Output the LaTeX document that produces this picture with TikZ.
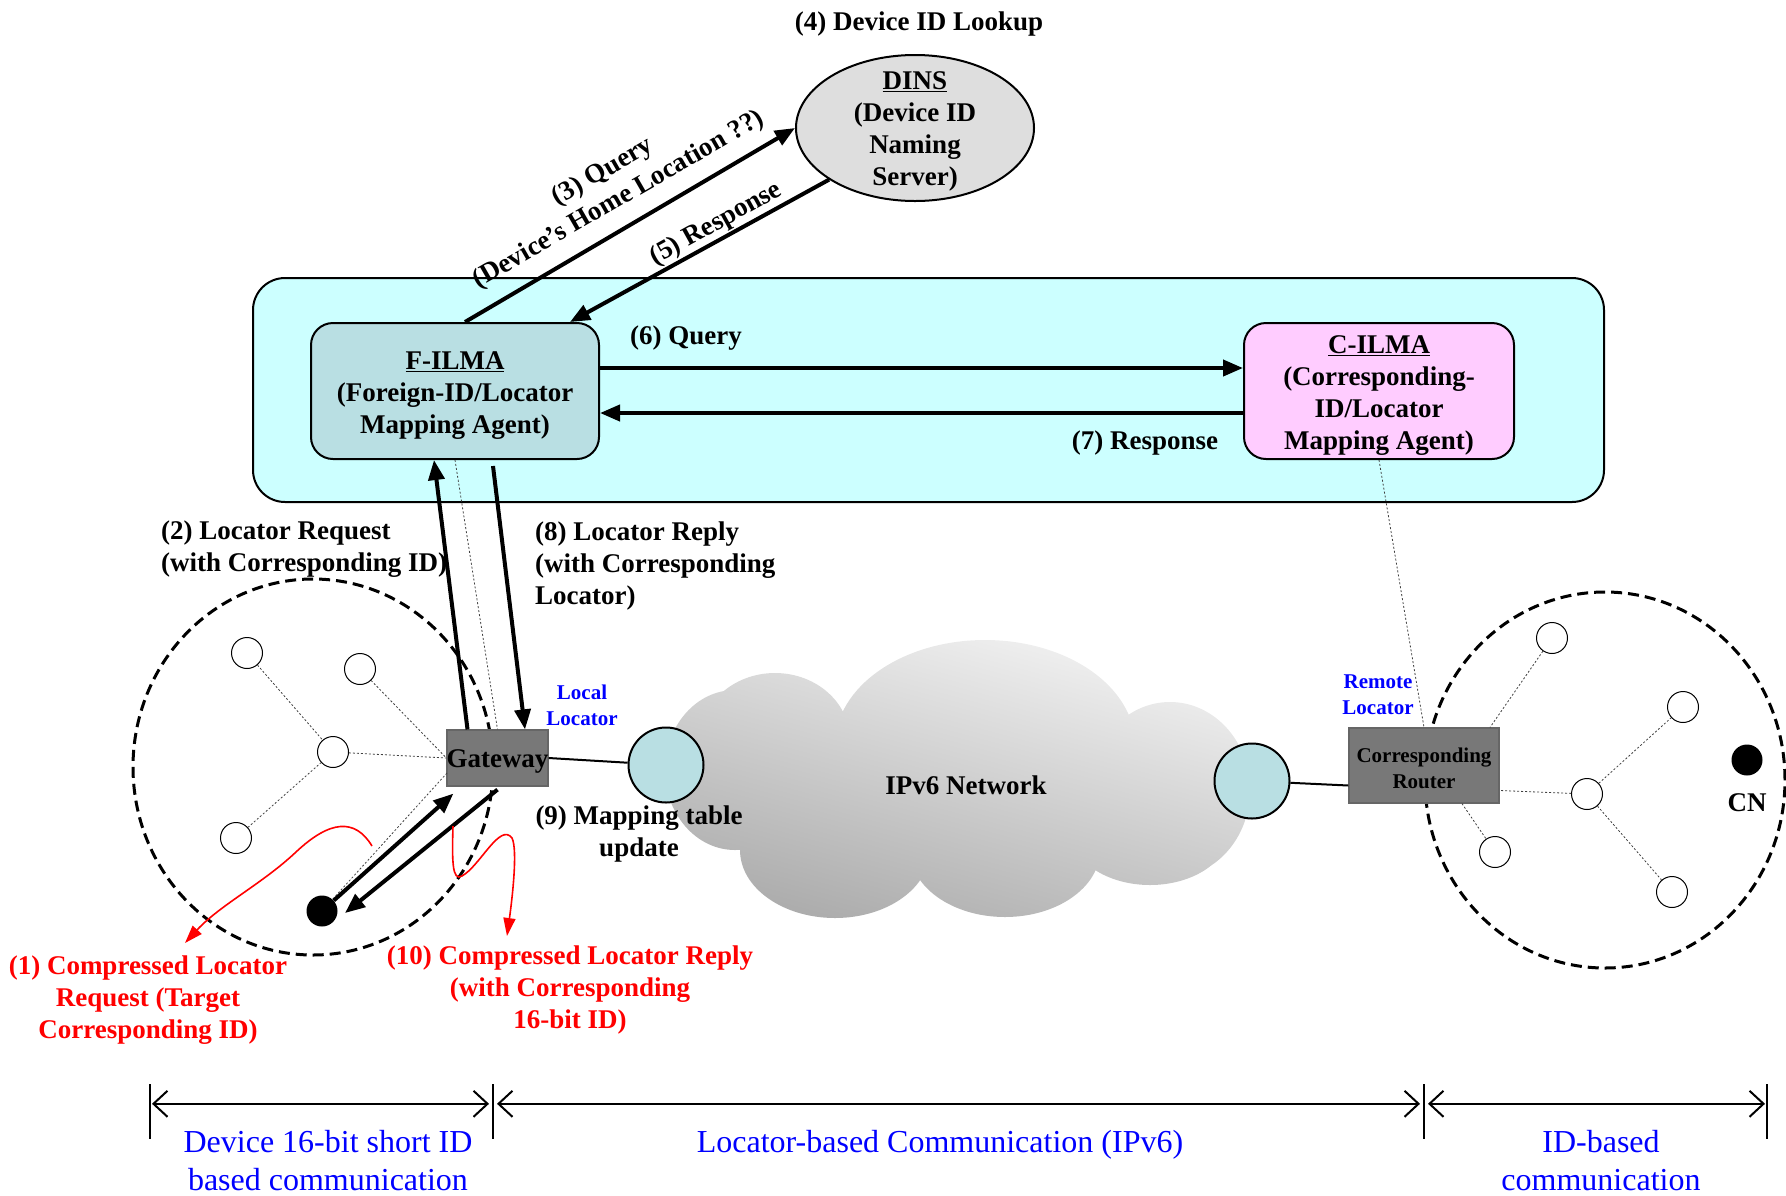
\documentclass[tikz,border=0pt]{standalone}
\usepackage{fontspec}
\setmainfont{Liberation Serif}
\usetikzlibrary{arrows.meta,shapes.geometric,calc}

\definecolor{aqua}{HTML}{CCFFFF}
\definecolor{tealbox}{HTML}{B9DFE3}
\definecolor{pinkbox}{HTML}{FFCCFF}
\definecolor{dinsgray}{HTML}{DEDEDE}
\definecolor{boxgray}{HTML}{787878}
\definecolor{lblue}{HTML}{0000FF}
\definecolor{lred}{HTML}{FF0000}

\newcommand\bigbf{\fontsize{27}{32}\selectfont\bfseries}
\newcommand\smallbf{\fontsize{21}{26}\selectfont\bfseries}
\newcommand\spanfont{\fontsize{32}{38}\selectfont}

\begin{document}
\begin{tikzpicture}[x=1pt,y=-1pt,
  lbl/.style={font=\bigbf, align=center, inner sep=0pt, yshift=-3pt},
  lbll/.style={font=\bigbf, align=left, inner sep=0pt, anchor=west, yshift=-2.5pt},
  redlbl/.style={font=\bigbf, align=center, inner sep=0pt, text=lred, yshift=-2.5pt},
  loclbl/.style={font=\smallbf, align=center, inner sep=0pt, text=lblue},
  agent/.style={draw, line width=2pt, rounded corners=22pt, inner sep=0pt},
  arr/.style={line width=4pt, -{Triangle[length=20pt,width=16pt]}},
  redarr/.style={draw=lred, line width=1.6pt, -{Triangle[length=18pt,width=12pt]}},
  dotline/.style={line width=0.8pt, black!75, dash pattern=on 2pt off 2pt},
  zone/.style={ellipse, draw, line width=3pt, dash pattern=on 11pt off 6pt, minimum width=360pt, minimum height=376pt, inner sep=0pt},
  sensor/.style={circle, draw, line width=1pt, fill=white, minimum size=31pt, inner sep=0pt},
  device/.style={circle, fill=black, minimum size=31pt, inner sep=0pt},
  gw/.style={draw=black!60, line width=1.2pt, fill=boxgray, inner sep=0pt},
  port/.style={circle, draw, line width=2pt, fill=tealbox, minimum size=75pt, inner sep=0pt},
  span/.style={font=\spanfont, text=lblue, align=center, inner sep=0pt},
  dim/.style={line width=2.5pt, {Straight Barb[length=14pt,width=26pt,line width=2pt]}-{Straight Barb[length=14pt,width=26pt,line width=2pt]}},
  tick/.style={line width=1.2pt},
]
\useasboundingbox (0,0) rectangle (1786,1195);

% ---------- mapping-agent panel ----------
\node[draw, line width=2pt, fill=aqua, rounded corners=32pt, minimum width=1351pt, minimum height=224pt, inner sep=0pt] (panel) at (928.5,390) {};
\node[agent, fill=tealbox, minimum width=288pt, minimum height=136pt] (filma) at (455,391) {};
\node[lbl, yshift=-1.5pt] (filmatext) at (filma.center) {\underline{F-ILMA}\\(Foreign-ID/Locator\\Mapping Agent)};
\node[agent, fill=pinkbox, minimum width=270pt, minimum height=136pt] (cilma) at (1379,391) {};
\node[lbl, yshift=-1.5pt] (cilmatext) at (cilma.center) {\underline{C-ILMA}\\(Corresponding-\\ID/Locator\\Mapping Agent)};

% ---------- naming server ----------
\node[ellipse, draw, line width=2pt, fill=dinsgray, minimum width=238pt, minimum height=146pt, inner sep=0pt] (dins) at (915,128) {};
\node[lbl] (dinstext) at (dins.center) {\underline{DINS}\\(Device ID\\Naming\\Server)};
\node[lbl] (lookup) at (919,21) {(4) Device ID Lookup};

% ---------- IPv6 cloud ----------
\shade[top color=gray!10, bottom color=gray!65, shading angle=-15]
  (735,770) ellipse [x radius=70, y radius=80]
  (775,740) ellipse [x radius=75, y radius=67]
  (985,745) ellipse [x radius=150, y radius=105]
  (1170,790) ellipse [x radius=80, y radius=88]
  (1150,830) ellipse [x radius=80, y radius=55]
  (1005,850) ellipse [x radius=95, y radius=67]
  (835,850) ellipse [x radius=95, y radius=68]
  (960,790) ellipse [x radius=220, y radius=85];
\node[lbl] (ipv6) at (966,782) {IPv6 Network};

% ---------- device domain (left) ----------
\node[zone] (zoneL) at (313,767) {};
\node[sensor] (s1) at (247,653) {};
\node[sensor] (s2) at (360,669) {};
\node[sensor] (s3) at (333,752) {};
\node[sensor] (s4) at (236,838) {};
\node[device] (dev) at (322,911) {};
\node[gw, minimum width=101pt, minimum height=56pt] (gateway) at (497.5,758) {};
\node[lbl] (gwtext) at (gateway.center) {Gateway};
\coordinate (gwlow) at (447,773);

\draw[dotline] (s1) -- (s3);
\draw[dotline] (s4) -- (s3);
\draw[dotline] (s3) -- (gateway.west);
\draw[dotline] (s2) -- (gateway.west);
\draw[dotline] (gwlow) -- (dev);

% ---------- ports on the IPv6 network ----------
\node[port] (portL) at (666,765) {};
\node[port] (portR) at (1252,781) {};
\draw[line width=2pt] (gateway.east) -- (portL);

% ---------- corresponding domain (right) ----------
\node[zone] (zoneR) at (1605,780) {};
\node[sensor] (r1) at (1552,638) {};
\node[sensor] (r2) at (1683,707) {};
\node[sensor] (r3) at (1587,794) {};
\node[sensor] (r4) at (1495,852) {};
\node[sensor] (r5) at (1672,892) {};
\node[device] (cn) at (1747,760) {};
\node[lbl] (cnlbl) at (1747,800) {CN};
\node[gw, minimum width=150pt, minimum height=75pt] (router) at (1424,765.5) {};
\node[font=\smallbf, align=center, inner sep=0pt, yshift=-2.5pt] (routertext) at (router.center) {Corresponding\\Router};
\draw[line width=2pt] (portR) -- ([yshift=-20pt]router.west);

\draw[dotline] (r1) -- ([xshift=66pt]router.north);
\draw[dotline] (r3) -- ([yshift=-25pt]router.east);
\draw[dotline] (r3) -- (r2);
\draw[dotline] (r3) -- (r5);
\draw[dotline] ([xshift=38pt]router.south) -- (r4);

% ---------- dotted association lines ----------
\draw[dotline] (filma.south) -- (gateway.north);
\draw[dotline] (cilma.south) -- (router.north);

% ---------- signalling arrows ----------
\draw[arr] ([xshift=10pt]filma.north) -- (dins.west);
\draw[arr] (dins.211) -- ([xshift=115pt]filma.north);
\node[lbl, rotate=30] (q3) at (611,183) {(3) Query\\(Device’s Home Location ??)};
\node[lbl, rotate=29] (r5lbl) at (716,221) {(5) Response};

\draw[arr] ([yshift=23pt]filma.east) -- ([yshift=23pt]cilma.west);
\draw[arr] ([yshift=-22pt]cilma.west) -- ([yshift=-22pt]filma.east);
\node[lbl] (q6) at (686,335) {(6) Query};
\node[lbl] (r7) at (1145,440) {(7) Response};

\draw[arr] ([xshift=-30pt]gateway.north) -- ([xshift=-21pt]filma.south);
\draw[arr] ([xshift=38pt,yshift=-6pt]filma.south) -- ([xshift=27.5pt]gateway.north);
\node[lbll] (q2) at (161,547) {(2) Locator Request\\(with Corresponding ID)};
\node[lbll] (r8) at (535,563) {(8) Locator Reply\\(with Corresponding\\Locator)};

\node[loclbl] (loc) at (582,705) {Local\\Locator};
\node[loclbl] (rloc) at (1378,695) {Remote\\Locator};
\node[lbl] (upd) at (639,831) {(9) Mapping table\\update};

\draw[arr] (dev) -- ([xshift=7pt,yshift=-7pt]gateway.south west);
\draw[arr] ([yshift=-3pt]gateway.south) -- ([xshift=23pt,yshift=-2pt]dev.center);

% ---------- compressed messages ----------
\coordinate (c1s) at (372,846);
\coordinate (c1e) at (185,943);
\coordinate (c10s) at (453,826);
\coordinate (c10e) at (507,936);
\draw[redarr] (c1s) .. controls (355,818) and (330,820) .. (296,852)
  .. controls (262,884) and (220,905) .. (c1e);
\draw[redarr] (c10s) .. controls (452,860) and (452,882) .. (462,876)
  .. controls (480,866) and (500,822) .. (512,838)
  .. controls (518,850) and (512,900) .. (c10e);
\node[redlbl] (m1) at (148,998) {(1) Compressed Locator\\Request (Target\\Corresponding ID)};
\node[redlbl] (m10) at (570,987) {(10) Compressed Locator Reply\\(with Corresponding\\16-bit ID)};

% ---------- communication spans ----------
\coordinate (t1a) at (150,1084); \coordinate (t1b) at (150,1139);
\coordinate (t2a) at (493,1084); \coordinate (t2b) at (493,1139);
\coordinate (t3a) at (1424,1084); \coordinate (t3b) at (1424,1139);
\coordinate (t4a) at (1767,1084); \coordinate (t4b) at (1767,1139);
\draw[tick] (t1a) -- (t1b);
\draw[tick] (t2a) -- (t2b);
\draw[tick] (t3a) -- (t3b);
\draw[tick] (t4a) -- (t4b);
\draw[dim] ($(t1a)!0.36!(t1b)+(2,0)$) -- ($(t2a)!0.36!(t2b)+(-4,0)$);
\draw[dim] ($(t2a)!0.36!(t2b)+(4,0)$) -- ($(t3a)!0.36!(t3b)+(-4,0)$);
\draw[dim] ($(t3a)!0.36!(t3b)+(4,0)$) -- ($(t4a)!0.36!(t4b)+(-2,0)$);
\node[span] (sp1) at (328,1161) {Device 16-bit short ID\\based communication};
\node[span] (sp2) at (940,1145) {Locator-based Communication (IPv6)};
\node[span] (sp3) at (1601,1161) {ID-based\\communication};
\end{tikzpicture}
\end{document}
